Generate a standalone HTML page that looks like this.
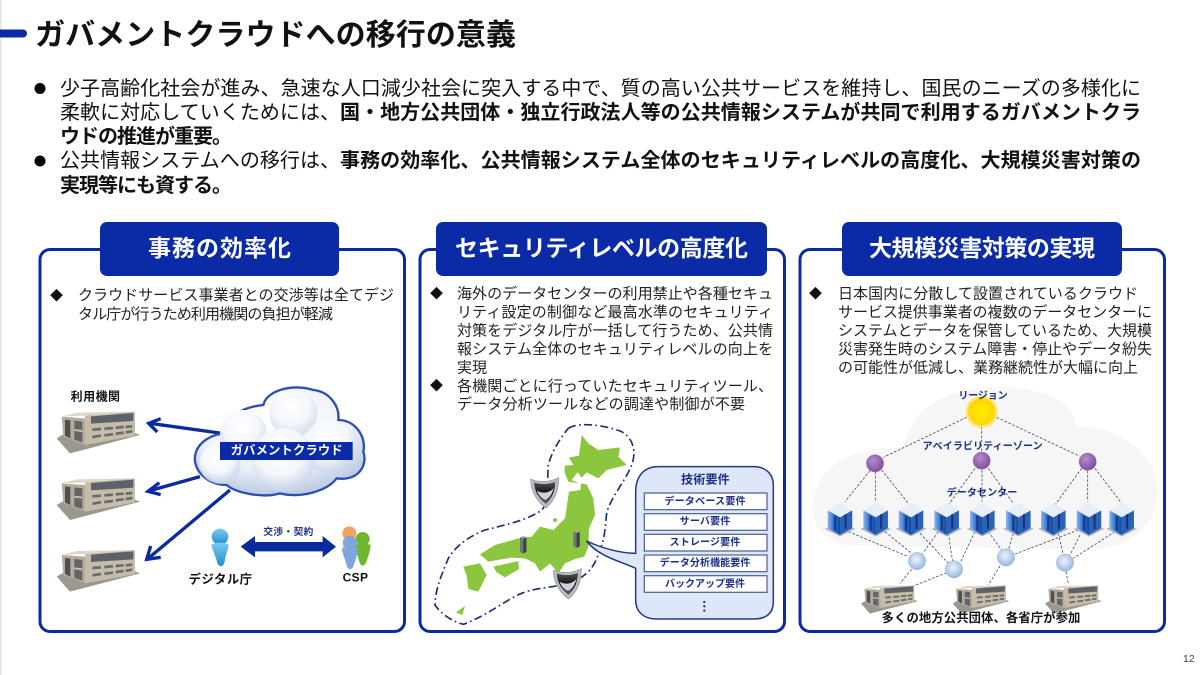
<!DOCTYPE html>
<html lang="ja">
<head>
<meta charset="utf-8">
<title>ガバメントクラウドへの移行の意義</title>
<style>
html,body{margin:0;padding:0;background:#fff;width:1200px;height:675px;overflow:hidden}
svg{display:block;filter:blur(.3px)}
text{font-family:"Liberation Sans","Noto Sans CJK JP",sans-serif;dominant-baseline:auto}
.b{font-weight:700}
.body{font-size:20px;fill:#111}
.p{font-size:15px;fill:#222}
.h{font-size:23px;font-weight:700;fill:#fff;text-anchor:middle}
.navy{fill:#1c2f86;font-weight:700}
.lbl{fill:#111;font-weight:700}
.dash{stroke:#3d4a66;stroke-width:2.4;stroke-dasharray:8 5;fill:none}
</style>
</head>
<body>
<svg xmlns="http://www.w3.org/2000/svg" width="1200" height="675" viewBox="0 0 1200 675">
<defs>
<radialGradient id="cl" cx="45%" cy="30%" r="75%"><stop offset="0" stop-color="#fff"/><stop offset=".6" stop-color="#eef2f8"/><stop offset="1" stop-color="#b4c2e0"/></radialGradient>
<radialGradient id="lobe" cx="45%" cy="35%" r="60%"><stop offset="0" stop-color="#fff"/><stop offset=".65" stop-color="#f3f6fb"/><stop offset="1" stop-color="#cfd9ec" stop-opacity=".7"/></radialGradient>
<radialGradient id="sun" cx="50%" cy="50%" r="50%"><stop offset="0" stop-color="#ffee00"/><stop offset=".75" stop-color="#ffd500"/><stop offset="1" stop-color="#ffe98a" stop-opacity=".5"/></radialGradient>
<radialGradient id="pur" cx="40%" cy="35%" r="70%"><stop offset="0" stop-color="#b78bc9"/><stop offset="1" stop-color="#7d4a9c"/></radialGradient>
<radialGradient id="blu" cx="45%" cy="40%" r="65%"><stop offset="0" stop-color="#eef4fd"/><stop offset="1" stop-color="#8fb2e0"/></radialGradient>
<linearGradient id="srv" x1="0" x2="1" y1="0" y2="0"><stop offset="0" stop-color="#8fb4ea"/><stop offset=".5" stop-color="#2f6fd0"/><stop offset="1" stop-color="#16479c"/></linearGradient>
<linearGradient id="per" x1="0" x2="0" y1="0" y2="1"><stop offset="0" stop-color="#7ecbef"/><stop offset="1" stop-color="#1c8fc9"/></linearGradient>
<linearGradient id="shd" x1="0" x2="0" y1="0" y2="1"><stop offset="0" stop-color="#555"/><stop offset=".5" stop-color="#111"/><stop offset="1" stop-color="#666"/></linearGradient>

<g id="bld">
<polygon points="-125,30 -105,18 110,14 125,20 -85,75" fill="#9a988f"/>
<polygon points="-40,-38 110,-50 110,22 -40,50" fill="#c6bcaa"/>
<polygon points="-110,-35 -40,-30 -40,50 -105,25" fill="#b5ab9a"/>
<polygon points="-110,-35 -65,-47 110,-50 -40,-38" fill="#dcd6ca"/>
<polygon points="-22,-36 105,-46 105,-22 -22,-14" fill="#5d626a"/>
<g fill="#6a6a68">
<polygon points="-18,0 8,-2 8,6 -18,8"/><polygon points="18,-3 44,-5 44,3 18,5"/><polygon points="52,-6 76,-8 76,0 52,2"/><polygon points="82,-8 102,-10 102,-2 82,0"/>
<polygon points="-18,22 8,18 8,26 -18,30"/><polygon points="18,17 44,14 44,22 18,25"/><polygon points="52,12 76,9 76,17 52,20"/><polygon points="82,8 102,5 102,13 82,16"/>
</g>
<polygon points="-100,-26 -84,-24 -84,30 -100,22" fill="#4d5054"/>
<polygon points="-72,-23 -48,-20 -48,42 -72,34" fill="#62656a"/>
<polygon points="-72,2 -48,5 -48,11 -72,8" fill="#c6bcaa"/>
</g>

<g id="srvi">
<polygon points="-40,30 0,50 40,30 0,12" fill="#b4b8c0"/>
<polygon points="-32,-18 0,-38 32,-18 0,0" fill="#e8eef6"/>
<polygon points="-32,-18 0,0 0,46 -32,28" fill="url(#srv)"/>
<polygon points="0,0 32,-18 32,28 0,46" fill="#2a62b8"/>
<rect x="-16" y="-4" width="6" height="38" fill="#143f8c"/>
<rect x="12" y="-8" width="5" height="38" fill="#0f3275"/>
</g>

<g id="pers">
<ellipse cx="0" cy="-30" rx="25" ry="24" fill="url(#per)"/>
<path d="M-26,-6 C-6,-14 12,-14 26,-6 C24,14 16,26 14,44 C10,64 -6,64 -10,42 C-14,24 -24,10 -26,-6Z" fill="url(#per)"/>
</g>

<g id="shield">
<path d="M-38,-38 C-15,-28 15,-28 42,-42 C42,-5 30,25 5,45 C-20,25 -38,0 -38,-38Z" fill="#b8bcc4" stroke="#8e939c" stroke-width="2"/>
<path d="M-28,-28 C-10,-22 12,-22 32,-30 C32,-4 22,18 5,33 C-13,18 -28,-2 -28,-28Z" fill="url(#shd)"/>
<path d="M-20,-5 C-5,5 15,2 28,-12 C22,10 12,18 4,22 C-8,16 -16,8 -20,-5Z" fill="#cfd2d6"/>
</g>

<g id="tower">
<polygon points="-15,-40 0,-46 15,-40 15,30 0,38 -15,30" fill="#3c4146"/>
<polygon points="-15,-40 0,-34 0,38 -15,30" fill="#6f7578"/>
<polygon points="-15,-40 0,-46 15,-40 0,-34" fill="#a8adb0"/>
</g>
</defs>

<rect x="0" y="0" width="1.5" height="675" fill="#e3e3e3"/>

<!-- Title -->
<rect x="-8" y="29.5" width="35" height="8" rx="4" fill="#0a2aa6"/>
<text class="b" x="35" y="45" font-size="30" fill="#111" textLength="481">ガバメントクラウドへの移行の意義</text>

<!-- Bullets -->
<circle cx="40" cy="88.5" r="5.5" fill="#000"/>
<circle cx="40" cy="161" r="5.5" fill="#000"/>
<text class="body" x="60" y="95" textLength="1081">少子高齢化社会が進み、急速な人口減少社会に突入する中で、質の高い公共サービスを維持し、国民のニーズの多様化に</text>
<text class="body" x="60" y="119" textLength="280">柔軟に対応していくためには、</text>
<text class="body b" x="340" y="119" textLength="801">国・地方公共団体・独立行政法人等の公共情報システムが共同で利用するガバメントクラ</text>
<text class="body b" x="60" y="143" textLength="172">ウドの推進が重要。</text>
<text class="body" x="60" y="167" textLength="280">公共情報システムへの移行は、</text>
<text class="body b" x="340" y="167" textLength="801">事務の効率化、公共情報システム全体のセキュリティレベルの高度化、大規模災害対策の</text>
<text class="body b" x="60" y="192" textLength="172">実現等にも資する。</text>

<!-- Panels -->
<g fill="#fff" stroke="#0a2aa0" stroke-width="3">
<rect x="40" y="249.5" width="364.5" height="382" rx="10"/>
<rect x="420" y="249.5" width="364.5" height="382" rx="10"/>
<rect x="800" y="249.5" width="364.5" height="382" rx="10"/>
</g>
<g fill="#0a2aa6">
<rect x="100" y="222" width="239" height="54" rx="7"/>
<rect x="436" y="222" width="331" height="54" rx="7"/>
<rect x="842" y="222" width="280" height="54" rx="7"/>
</g>
<text class="h" x="219.5" y="256" font-size="24" textLength="143">事務の効率化</text>
<text class="h" x="601.5" y="256" textLength="293">セキュリティレベルの高度化</text>
<text class="h" x="982" y="256" textLength="226">大規模災害対策の実現</text>

<!-- Panel text -->
<g>
<text x="50" y="300" font-size="13" fill="#111">◆</text>
<text class="p" x="78" y="300" textLength="316">クラウドサービス事業者との交渉等は全てデジ</text>
<text class="p" x="78" y="319" textLength="255">タル庁が行うため利用機関の負担が軽減</text>

<text x="430" y="298" font-size="13" fill="#111">◆</text>
<text class="p" x="457" y="298.5" textLength="316">海外のデータセンターの利用禁止や各種セキュ</text>
<text class="p" x="457" y="317" textLength="316">リティ設定の制御など最高水準のセキュリティ</text>
<text class="p" x="457" y="335.5" textLength="316">対策をデジタル庁が一括して行うため、公共情</text>
<text class="p" x="457" y="354" textLength="316">報システム全体のセキュリティレベルの向上を</text>
<text class="p" x="457" y="372.5" textLength="30">実現</text>
<text x="430" y="390" font-size="13" fill="#111">◆</text>
<text class="p" x="457" y="391" textLength="316">各機関ごとに行っていたセキュリティツール、</text>
<text class="p" x="457" y="409" textLength="288">データ分析ツールなどの調達や制御が不要</text>

<text x="809" y="298" font-size="13" fill="#111">◆</text>
<text class="p" x="838" y="298.5" textLength="300">日本国内に分散して設置されているクラウド</text>
<text class="p" x="838" y="317" textLength="314">サービス提供事業者の複数のデータセンターに</text>
<text class="p" x="838" y="335.5" textLength="314">システムとデータを保管しているため、大規模</text>
<text class="p" x="838" y="354" textLength="314">災害発生時のシステム障害・停止やデータ紛失</text>
<text class="p" x="838" y="372.5" textLength="300">の可能性が低減し、業務継続性が大幅に向上</text>
</g>

<!-- Panel 1 diagram -->
<g transform="translate(30,370) scale(.33333)">
<text class="lbl" x="122" y="91" font-size="36" textLength="148">利用機関</text>
<use href="#bld" transform="translate(205,175)"/>
<use href="#bld" transform="translate(205,375)"/>
<use href="#bld" transform="translate(205,590)"/>
<g stroke="#0a2aa0" stroke-width="10" fill="none">
<line x1="590" y1="192" x2="360" y2="160"/>
<polyline points="392,146 356,160 382,186"/>
<line x1="510" y1="320" x2="360" y2="362"/>
<polyline points="388,338 354,364 392,374"/>
<line x1="600" y1="360" x2="355" y2="565"/>
<polyline points="362,528 350,568 392,562"/>
</g>
<path d="M590,190 C590,130 650,110 700,105 C710,60 790,40 850,60 C900,65 930,110 925,150 C975,150 1010,200 1000,245 C1015,290 980,335 920,325 C890,365 810,385 750,370 C700,385 620,370 590,345 C530,345 490,300 495,260 C500,215 550,190 590,190Z" fill="url(#cl)" stroke="#2f4fae" stroke-width="7"/>
<circle cx="790" cy="130" r="72" fill="url(#lobe)"/>
<circle cx="640" cy="190" r="70" fill="url(#lobe)"/>
<circle cx="900" cy="230" r="80" fill="url(#lobe)"/>
<circle cx="570" cy="280" r="62" fill="url(#lobe)"/>
<circle cx="760" cy="270" r="95" fill="url(#lobe)"/>
<rect x="570" y="216" width="398" height="54" fill="#0a2aa6"/>
<text class="b" x="602" y="253" font-size="37" fill="#fff" textLength="336">ガバメントクラウド</text>
<text x="700" y="495" font-size="29" font-weight="700" fill="#1c2f86" textLength="150">交渉・契約</text>
<polygon points="632,530 675,498 675,516 878,516 878,498 918,530 878,562 878,544 675,544 675,562" fill="#0a2aa0"/>
<use href="#pers" transform="translate(570,530)"/>
<text class="lbl" x="476" y="640" font-size="37" textLength="190">デジタル庁</text>
<g transform="translate(958,490)"><ellipse cx="0" cy="0" rx="21" ry="21" fill="#f0a35c"/><path d="M-20,18 H20 V50 H-20Z" fill="#f0c090"/></g>
<g transform="translate(998,507)"><ellipse cx="0" cy="0" rx="21" ry="21" fill="#6fb52e"/><path d="M-24,18 C-8,12 12,12 24,18 C22,42 14,58 10,72 C2,84 -6,82 -10,68 C-14,50 -22,38 -24,18Z" fill="#6fb52e"/></g>
<g transform="translate(960,518)"><ellipse cx="0" cy="0" rx="21" ry="20" fill="#7da7dc"/><path d="M-24,18 C-8,12 12,12 24,18 C22,42 14,58 10,72 C2,84 -6,82 -10,68 C-14,50 -22,38 -24,18Z" fill="#7da7dc"/></g>
<text class="lbl" x="938" y="634" font-size="36" textLength="76">CSP</text>
</g>

<!-- Panel 2 diagram -->
<g transform="translate(425,415) scale(.33333)">
<path d="M430,40 C460,20 540,30 590,50 C625,70 635,110 620,150 C600,200 555,250 545,295 C540,340 540,380 515,430 C500,470 470,490 440,500 C390,520 340,515 290,535 C250,550 190,600 115,628 C85,620 50,600 30,570 C30,530 45,490 70,430 C90,395 130,365 180,345 C240,330 310,315 350,285 C375,260 365,200 370,150 C380,110 405,70 430,40Z" fill="none" stroke="#1d2f6f" stroke-width="5" stroke-dasharray="24 10 5 10"/>
<g fill="#8cc63f">
<path d="M470,60 L490,85 L520,105 L585,97 L580,125 L605,150 L545,165 L520,190 L485,172 L470,188 L458,172 L440,195 L462,205 L430,200 L418,170 L420,152 L445,150 L432,128 L462,122Z"/>
<path d="M468,205 L485,208 L505,250 L510,300 L492,340 L490,395 L478,425 L450,432 L420,445 L400,475 L375,445 L345,470 L330,445 L300,430 L258,428 L190,440 L165,418 L210,390 L280,370 L320,365 L345,335 L385,345 L420,310 L432,230 L466,225Z"/>
<path d="M205,455 L280,438 L282,462 L240,487 L215,472Z"/>
<path d="M115,455 L165,445 L185,480 L160,530 L130,522 L125,482Z"/>
<path d="M93,592 L120,573 L112,600Z"/>
<circle cx="390" cy="315" r="6"/>
</g>
<use href="#tower" transform="translate(295,392) scale(.62,.62)"/>
<use href="#tower" transform="translate(455,375) scale(.62,.62)"/>
<use href="#shield" transform="translate(357,232) scale(1.05)"/>
<use href="#shield" transform="translate(425,505) scale(1.05)"/>
<path d="M632,232 C632,180 660,155 700,155 H985 C1025,155 1045,180 1045,210 V560 C1045,595 1025,612 985,612 H695 C655,612 632,590 632,555 V460 C590,440 520,425 485,378 C530,400 590,415 632,415Z" fill="#dde7f9" stroke="#22387f" stroke-width="4.5"/>
<text class="b" x="768" y="205" font-size="36" fill="#1c2f86" textLength="146">技術要件</text>
<g fill="#fff" stroke="#5b6c98" stroke-width="4">
<rect x="658" y="234" width="368" height="50"/>
<rect x="658" y="296" width="368" height="50"/>
<rect x="658" y="358" width="368" height="50"/>
<rect x="658" y="420" width="368" height="50"/>
<rect x="658" y="482" width="368" height="50"/>
</g>
<g font-size="30" text-anchor="middle" font-weight="700" fill="#1c2f86">
<text x="840" y="269" textLength="244">データベース要件</text>
<text x="840" y="329" textLength="152">サーバ要件</text>
<text x="840" y="391" textLength="212">ストレージ要件</text>
<text x="840" y="453" textLength="272">データ分析機能要件</text>
<text x="840" y="516" textLength="240">バックアップ要件</text>
</g>
<g fill="#22387f"><circle cx="838" cy="561" r="3.5"/><circle cx="838" cy="574" r="3.5"/><circle cx="838" cy="587" r="3.5"/></g>
</g>

<!-- Panel 3 diagram -->
<g transform="translate(800,380) scale(.33333)">
<path d="M40,400 C25,300 120,190 310,205 C330,90 430,30 560,25 C700,10 830,60 825,140 C950,130 1080,230 1075,340 C1070,440 980,510 870,510 L130,495 C80,480 45,450 40,400Z" fill="#f6f6f6"/>
<g class="dash">
<path d="M500,112 L250,232 M545,140 L545,215 M590,112 L838,228"/>
<path d="M210,272 L135,365 M226,275 L226,365 M245,270 L325,370"/>
<path d="M525,265 L445,375 M546,270 L546,365 M565,265 L640,370"/>
<path d="M845,265 L765,375 M863,272 L863,365 M885,265 L965,370"/>
<path d="M145,455 L325,530 M255,455 L335,520 M360,460 L445,550 M415,455 L368,520 M445,460 L458,545 M525,455 L482,545 M565,455 L605,510 M640,460 L625,510 M835,450 L645,522 M775,460 L790,525 M840,465 L810,525 M945,455 L820,535"/>
<path d="M335,568 L300,610 M440,578 L330,622 M600,558 L565,615 M798,575 L805,612"/>
</g>
<circle cx="545" cy="95" r="50" fill="url(#sun)"/>
<g fill="url(#pur)" stroke="#8d6aa8" stroke-width="1"><circle cx="225" cy="250" r="26"/><circle cx="545" cy="242" r="26"/><circle cx="863" cy="245" r="26"/></g>
<use href="#srvi" transform="translate(120,412) scale(1.15)"/>
<use href="#srvi" transform="translate(227,412) scale(1.15)"/>
<use href="#srvi" transform="translate(333,412) scale(1.15)"/>
<use href="#srvi" transform="translate(440,412) scale(1.15)"/>
<use href="#srvi" transform="translate(547,412) scale(1.15)"/>
<use href="#srvi" transform="translate(655,412) scale(1.15)"/>
<use href="#srvi" transform="translate(760,412) scale(1.15)"/>
<use href="#srvi" transform="translate(867,412) scale(1.15)"/>
<use href="#srvi" transform="translate(965,412) scale(1.15)"/>
<g fill="url(#blu)" stroke="#7b9ccb" stroke-width="1"><circle cx="351" cy="543" r="26"/><circle cx="462" cy="568" r="26"/><circle cx="618" cy="532" r="26"/><circle cx="795" cy="548" r="26"/></g>
<use href="#bld" transform="translate(268,650) scale(.68)"/>
<use href="#bld" transform="translate(543,650) scale(.68)"/>
<use href="#bld" transform="translate(820,650) scale(.68)"/>
<g font-weight="700" fill="#1c2f86">
<text x="475" y="57" font-size="30" textLength="148">リージョン</text>
<text x="368" y="208" font-size="30" textLength="360">アベイラビリティーゾーン</text>
<text x="440" y="348" font-size="30" textLength="212">データセンター</text>
</g>
<text class="lbl" x="245" y="726" font-size="37" textLength="596">多くの地方公共団体、各省庁が参加</text>
</g>

<text x="1183" y="662" font-size="10.5" fill="#444">12</text>
</svg>
</body>
</html>
